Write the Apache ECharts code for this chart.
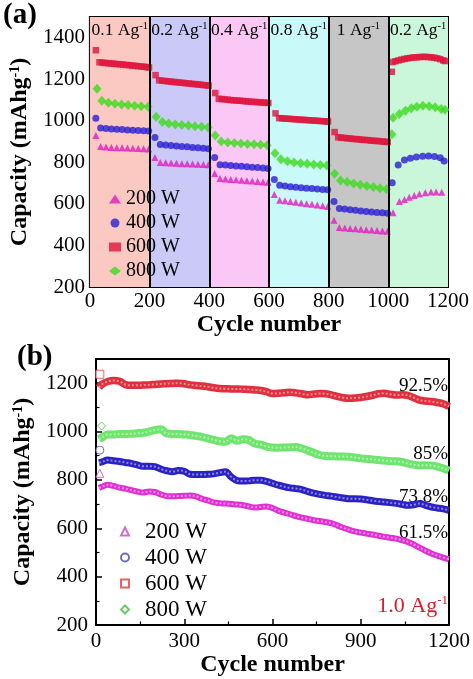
<!DOCTYPE html>
<html><head><meta charset="utf-8">
<script src="https://cdn.jsdelivr.net/npm/echarts@6/dist/echarts.min.js"></script>
<style>html,body{margin:0;padding:0;background:#fff}#c{width:473px;height:679px}</style>
</head><body><div id="c"></div>
<script>
// ---------- Panel (a): rate performance ----------
const bandEdges = [0, 200, 400, 600, 800, 1000, 1200];
const bandLabels = ['0.1', '0.2', '0.4', '0.8', '1', '0.2'];
const dividerCycles = [200, 400, 600, 800, 1000];

const rateA200 = [[20,930],[36,876],[54,874],[72,872],[90,871],[108,870],[126,869],[144,868],[162,867],[180,866],[197,865],
  [218,824],[236,800],[254,798],[272,797],[290,796],[308,794],[326,793],[344,792],[362,791],[380,790],[397,789],
  [418,746],[436,722],[454,720],[472,718],[490,716],[508,714],[526,712],[544,710],[562,708],[580,706],[597,704],
  [618,645],[636,618],[654,615],[672,612],[690,608],[708,605],[726,601],[744,598],[762,595],[780,591],[797,587],
  [818,521],[836,486],[854,484],[872,482],[890,480],[908,478],[926,476],[944,474],[962,472],[980,470],[997,468],
  [1016,557],[1037,612],[1054,621],[1070,632],[1087,640],[1104,648],[1124,654],[1143,658],[1160,657],[1179,656]];
const rateA400 = [[20,1013],[36,966],[54,963],[72,961],[90,959],[108,958],[126,956],[144,955],[162,953],[180,952],[197,951],
  [218,920],[236,886],[254,884],[272,881],[290,879],[308,877],[326,875],[344,872],[362,870],[380,868],[397,866],
  [418,823],[436,789],[454,787],[472,785],[490,783],[508,781],[526,779],[544,777],[562,775],[580,773],[597,771],
  [618,718],[636,690],[654,686],[672,683],[690,680],[708,678],[726,676],[744,674],[762,672],[780,670],[797,668],
  [818,612],[836,578],[854,575],[872,572],[890,569],[908,566],[926,563],[944,561],[962,559],[980,557],[997,555],
  [1013,702],[1033,788],[1054,812],[1074,820],[1094,826],[1115,830],[1135,831],[1155,828],[1174,822],[1187,807]];
const rateA600 = [[20,1340],[32,1282],[42,1280],[52,1279],[62,1277],[72,1276],[82,1275],[92,1273],[102,1272],[112,1271],[122,1269],[132,1268],[142,1266],[152,1265],[162,1263],[172,1262],[182,1260],[192,1259],[198,1257],
  [220,1220],[232,1195],[242,1193],[252,1192],[262,1190],[272,1189],[282,1187],[292,1186],[302,1184],[312,1183],[322,1181],[332,1180],[342,1178],[352,1177],[362,1175],[372,1174],[382,1172],[392,1171],[398,1170],
  [420,1134],[432,1106],[442,1105],[452,1103],[462,1102],[472,1100],[482,1099],[492,1098],[502,1097],[512,1096],[522,1094],[532,1093],[542,1092],[552,1091],[562,1090],[572,1089],[582,1088],[592,1087],[598,1086],
  [622,1036],[634,1013],[644,1012],[654,1011],[664,1010],[674,1009],[684,1008],[694,1007],[704,1006],[714,1005],[724,1004],[734,1003],[744,1002],[754,1001],[764,1000],[774,999],[784,998],[794,997],[798,997],
  [820,946],[832,921],[842,919],[852,918],[862,916],[872,915],[882,913],[892,912],[902,911],[912,909],[922,908],[932,907],[942,905],[952,904],[962,903],[972,902],[982,900],[992,899],[998,898],
  [1012,1236],[1014,1283],[1024,1287],[1034,1291],[1044,1295],[1054,1298],[1064,1301],[1074,1303],[1084,1305],[1094,1306],[1104,1307],[1114,1308],[1124,1308],[1134,1307],[1144,1306],[1154,1304],[1164,1301],[1174,1297],[1184,1291],[1190,1288]];
const rateA800 = [[24,1155],[40,1097],[62,1087],[84,1082],[106,1079],[128,1076],[150,1073],[172,1070],[195,1068],
  [222,1020],[243,995],[264,987],[286,983],[308,980],[330,977],[352,974],[374,971],[396,968],
  [420,930],[440,900],[462,896],[484,893],[506,891],[528,889],[550,887],[572,885],[594,883],
  [620,844],[640,815],[662,806],[684,800],[706,796],[728,793],[750,790],[772,787],[794,785],
  [820,745],[840,713],[862,705],[884,698],[906,692],[928,686],[950,681],[972,676],[994,671],
  [1012,935],[1016,1015],[1037,1033],[1057,1049],[1077,1061],[1096,1068],[1116,1073],[1137,1070],[1157,1065],[1177,1057],[1190,1053]];

// ---------- Panel (b): cycling at 1.0 A/g ----------
const cyclesB = [10,20,40,60,80,100,120,140,160,180,200,220,240,260,280,300,320,340,360,380,400,420,440,460,480,500,520,540,560,580,600,
  620,640,660,680,700,720,740,760,780,800,820,840,860,880,900,920,940,960,980,1000,1020,1040,1060,1080,1100,1120,1140,1160,1180,1200];
const capB600 = [1182,1195,1207,1211,1208,1194,1191,1191,1192,1193,1195,1197,1198,1199,1200,1198,1193,1190,1188,1185,1181,1178,1177,1176,1176,1175,1174,1172,1170,1165,1157,
  1158,1160,1163,1160,1156,1152,1155,1157,1156,1152,1145,1140,1138,1139,1141,1145,1150,1156,1158,1154,1151,1152,1150,1140,1130,1126,1124,1120,1115,1103];
const capB800 = [968,975,988,988,990,990,991,993,995,1000,1006,1010,992,990,990,988,986,982,978,972,966,960,958,972,962,968,965,950,946,938,934,
  933,934,935,936,930,922,912,903,899,898,897,897,896,893,889,887,885,882,880,878,877,874,868,863,860,861,860,855,848,838];
const capB400 = [871,874,882,879,876,872,868,862,856,857,855,845,838,834,839,836,823,822,822,823,825,830,834,812,797,795,796,799,799,794,786,
  778,772,767,764,760,752,745,740,736,733,729,725,722,722,721,718,714,711,709,706,703,699,695,697,702,695,688,684,680,674];
const capB200 = [767,772,780,775,768,764,758,752,748,752,750,740,733,732,733,734,736,732,722,715,707,704,702,700,698,695,690,686,688,690,684,
  672,665,658,650,644,639,633,630,626,621,612,602,594,587,582,578,574,569,565,561,557,551,544,533,520,507,496,487,479,472];
const initB200 = [13, 827];
const initB400 = [13, 923];
const initB600 = [13, 1237];
const initB800 = [19, 1023];
const retentionLabels = ['92.5%', '85%', '73.8%', '61.5%'];
const currentLabelB = '1.0 Ag';

// ---------- styling ----------
const SERIF = '"Liberation Serif","Times New Roman",serif';
const bandColors = ['#fbc9c1', '#cbc9f8', '#fbc8f6', '#caf9fa', '#c6c6c6', '#caf6da'];
const colA = {p: '#e21cc0', b: '#2b1ed4', r: '#e0143c', g: '#3cdc1a'};
const colB = {p: '#e030d2', b: '#2c22c4', r: '#e0303e', g: '#6fe56f'};
const colBLeg = {p: '#c24ec0', b: '#4a4aae', r: '#de3c40', g: '#3fc23f'};

function pairsData(arr) { return arr.map(d => [d[0], d[1]]); }
function zipB(vals) { return cyclesB.map((c, i) => [c, vals[i]]); }
const plainNum = v => String(v);

function xAxisCfg(grid, interval, nameGap, labelMargin) {
  return {
    gridIndex: grid, type: 'value', min: 0, max: 1200, interval: interval,
    axisLine: {lineStyle: {color: '#000', width: 2}},
    axisTick: {inside: true, length: 6, lineStyle: {color: '#000', width: 1.5}},
    minorTick: {show: true, splitNumber: 2, length: 3.5, lineStyle: {color: '#000', width: 1.2}},
    splitLine: {show: false},
    axisLabel: {fontFamily: SERIF, fontSize: 21, color: '#000', margin: labelMargin, formatter: plainNum},
    name: 'Cycle number', nameLocation: 'middle', nameGap: nameGap,
    nameTextStyle: {fontFamily: SERIF, fontSize: 24, fontWeight: 'bold', color: '#000'}
  };
}
function yAxisCfg(grid, min, max, nameGap, labelMargin) {
  return {
    gridIndex: grid, type: 'value', min: min, max: max, interval: 200,
    axisLine: {lineStyle: {color: '#000', width: 2}},
    axisTick: {inside: true, length: 6, lineStyle: {color: '#000', width: 1.5}},
    minorTick: {show: true, splitNumber: 2, length: 3.5, lineStyle: {color: '#000', width: 1.2}},
    splitLine: {show: false},
    axisLabel: {fontFamily: SERIF, fontSize: 21, color: '#000', margin: labelMargin, showMaxLabel: false, formatter: plainNum},
    name: '{n|Capacity (mAhg}{s|-1}{n|)}', nameLocation: 'middle', nameGap: nameGap,
    nameTextStyle: {
      rich: {
        n: {fontFamily: SERIF, fontSize: 24, fontWeight: 'bold', color: '#000'},
        s: {fontFamily: SERIF, fontSize: 14, fontWeight: 'bold', color: '#000', padding: [0, 0, 10, 0]}
      }
    }
  };
}

const supRich = {
  n: {fontFamily: SERIF, fontSize: 17.5, color: '#000'},
  s: {fontFamily: SERIF, fontSize: 10.5, color: '#000', padding: [0, 0, 8, 0]}
};

const series = [
  {
    name: 'a200', type: 'scatter', xAxisIndex: 0, yAxisIndex: 0, symbol: 'triangle', symbolSize: 7,
    itemStyle: {color: colA.p}, data: pairsData(rateA200), z: 3,
    markArea: {
      silent: true, z: 1,
      data: bandLabels.map((l, i) => [
        {name: l, xAxis: bandEdges[i], itemStyle: {color: bandColors[i], opacity: 1}},
        {xAxis: bandEdges[i + 1]}
      ]),
      label: {show: true, position: 'insideTop', distance: 4, formatter: p => '{n|' + p.name + ' Ag}{s|-1}', rich: supRich}
    },
    markLine: {
      silent: true, symbol: 'none', label: {show: false},
      lineStyle: {color: '#000', width: 2, type: 'solid'},
      data: dividerCycles.map(c => ({xAxis: c}))
    }
  },
  {name: 'a400', type: 'scatter', xAxisIndex: 0, yAxisIndex: 0, symbol: 'circle', symbolSize: 7,
    itemStyle: {color: colA.b}, data: pairsData(rateA400), z: 3},
  {name: 'a600', type: 'scatter', xAxisIndex: 0, yAxisIndex: 0, symbol: 'rect', symbolSize: 6.5,
    itemStyle: {color: colA.r}, data: pairsData(rateA600), z: 3},
  {name: 'a800', type: 'scatter', xAxisIndex: 0, yAxisIndex: 0, symbol: 'diamond', symbolSize: [9, 10],
    itemStyle: {color: colA.g}, data: pairsData(rateA800), z: 3}
];

const bSets = [
  {key: 'p', vals: capB200, init: initB200, sym: 'triangle', name: 'b200', w: 6},
  {key: 'b', vals: capB400, init: initB400, sym: 'circle', name: 'b400', w: 7},
  {key: 'r', vals: capB600, init: initB600, sym: 'rect', name: 'b600', w: 7.5},
  {key: 'g', vals: capB800, init: initB800, sym: 'diamond', name: 'b800', w: 8}
];
bSets.forEach(s => {
  series.push({
    name: s.name + 'line', type: 'line', xAxisIndex: 1, yAxisIndex: 1, symbol: 'none', smooth: 0.35,
    lineStyle: {color: colB[s.key], width: s.w}, data: zipB(s.vals), z: 2
  });
  series.push({
    name: s.name + 'core', type: 'line', xAxisIndex: 1, yAxisIndex: 1, symbol: 'none', smooth: 0.35,
    lineStyle: {color: 'rgba(255,255,255,0.45)', width: 2, type: [2, 2]}, data: zipB(s.vals), z: 2
  });
  series.push({
    name: s.name, type: 'scatter', xAxisIndex: 1, yAxisIndex: 1, symbol: s.sym, symbolSize: 8,
    itemStyle: {color: '#fff', borderColor: colBLeg[s.key], borderWidth: 1}, data: [s.init], z: 4
  });
});

const legendFmt = n => n.slice(1) + ' W';

const option = {
  animation: false,
  backgroundColor: '#fff',
  grid: [
    {left: 87, right: 25, top: 17, height: 270, show: true, borderColor: '#000', borderWidth: 2, backgroundColor: 'transparent'},
    {left: 96, right: 21, top: 359, height: 266, show: true, borderColor: '#000', borderWidth: 2, backgroundColor: 'transparent'}
  ],
  xAxis: [xAxisCfg(0, 200, 18, 4), xAxisCfg(1, 300, 22, 6)],
  yAxis: [yAxisCfg(0, 200, 1500, 52, 5), yAxisCfg(1, 200, 1300, 50, 8)],
  legend: [
    {
      left: 104, top: 184, orient: 'vertical', itemWidth: 12, itemHeight: 9, itemGap: 4,
      data: ['a200', 'a400', 'a600', 'a800'], formatter: legendFmt, selectedMode: false,
      textStyle: {fontFamily: SERIF, fontSize: 20, color: '#000', lineHeight: 19}
    },
    {
      left: 115, top: 515, orient: 'vertical', itemWidth: 8, itemHeight: 8, itemGap: 3,
      data: ['b200', 'b400', 'b600', 'b800'], formatter: legendFmt, selectedMode: false,
      textStyle: {fontFamily: SERIF, fontSize: 23, color: '#000', lineHeight: 22, padding: [0, 0, 0, 11]}
    }
  ],
  graphic: [
    {type: 'text', left: 3, top: 1, style: {text: '(a)', font: 'bold 29px ' + SERIF, fill: '#000'}},
    {type: 'text', left: 17, top: 343, style: {text: '(b)', font: 'bold 29px ' + SERIF, fill: '#000'}},
    {type: 'text', style: {text: retentionLabels[0], x: 448, y: 386, align: 'right', verticalAlign: 'middle', font: '19px ' + SERIF, fill: '#000'}},
    {type: 'text', style: {text: retentionLabels[1], x: 448, y: 454, align: 'right', verticalAlign: 'middle', font: '19px ' + SERIF, fill: '#000'}},
    {type: 'text', style: {text: retentionLabels[2], x: 448, y: 497, align: 'right', verticalAlign: 'middle', font: '19px ' + SERIF, fill: '#000'}},
    {type: 'text', style: {text: retentionLabels[3], x: 448, y: 533, align: 'right', verticalAlign: 'middle', font: '19px ' + SERIF, fill: '#000'}},
    {type: 'text', style: {
      text: '{n|' + currentLabelB + '}{s|-1}', x: 448, y: 606, align: 'right', verticalAlign: 'middle',
      rich: {
        n: {fontFamily: SERIF, fontSize: 22, fill: '#d81e28', color: '#d81e28'},
        s: {fontFamily: SERIF, fontSize: 13, fill: '#d81e28', color: '#d81e28', padding: [0, 0, 10, 0]}
      }
    }}
  ],
  series: series
};

const chart = echarts.init(document.getElementById('c'), null, {renderer: 'canvas'});
chart.setOption(option);
</script>
</body></html>
